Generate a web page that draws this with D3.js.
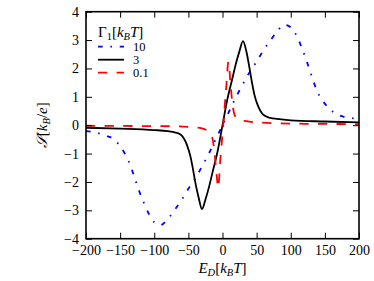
<!DOCTYPE html>
<html><head><meta charset="utf-8">
<script src="https://cdn.jsdelivr.net/npm/d3@7"></script>
<style>
body{margin:0;background:#fff;}
svg text{font-family:'Liberation Serif','Times New Roman','DejaVu Serif',serif !important;fill:#000;}
</style></head><body>
<svg id="c" width="374" height="281"></svg>
<script>
// ---- data ----
const xTicks = [-200,-150,-100,-50,0,50,100,150,200];
const yTicks = [-4,-3,-2,-1,0,1,2,3,4];
const legendLabels = ["10","3","0.1"];

const blueE = [-200,-185,-170,-160,-152,-145,-137,-130,-122,-115,-108,-100,-91,-80,-70,-60,-50,-40,-30,-20,-10,0,10,20,30,40,50,60,70,80,90,100,108,115,122,130,137,145,152,162,177,200];
const blueS = [-0.21,-0.26,-0.38,-0.48,-0.68,-0.92,-1.3,-1.76,-2.33,-2.75,-3.12,-3.42,-3.52,-3.3,-2.98,-2.64,-2.24,-1.88,-1.45,-1.0,-0.5,0,0.5,1.0,1.45,1.88,2.24,2.64,2.98,3.3,3.54,3.45,3.18,2.8,2.35,1.78,1.3,0.92,0.7,0.47,0.3,0.23];

const blackE = [-200,-150,-100,-80,-70,-62,-57,-52,-47,-44,-40,-35,-30,-25,-20,-14,-7,0,7,14,20,25,30,35,40,44,47,52,57,62,70,80,100,150,200];
const blackS = [-0.09,-0.12,-0.17,-0.21,-0.25,-0.32,-0.45,-0.7,-1.1,-1.45,-2.0,-2.55,-2.96,-2.62,-2.2,-1.6,-0.9,0,0.9,1.6,2.2,2.62,2.96,2.6,1.95,1.4,1.05,0.68,0.45,0.33,0.26,0.22,0.17,0.13,0.1];

const redE = [-200,-120,-70,-45,-30,-22,-17,-14,-12,-10,-8,-6.5,-3,0,3,6,8.5,10,11.5,13.5,15.5,19,25,35,50,80,120,200];
const redS = [-0.02,-0.03,-0.04,-0.07,-0.11,-0.2,-0.32,-0.55,-0.9,-1.4,-1.9,-2.2,-1.15,-0.3,0.6,1.5,2.23,2.0,1.5,1.0,0.6,0.3,0.2,0.14,0.1,0.07,0.05,0.04];

const series = [
  {name:legendLabels[0], E:blueE, S:blueS, color:"#0000ff", dash:"4.65,7.75,1.55,7.75"},
  {name:legendLabels[1], E:blackE, S:blackS, color:"#000000", dash:null},
  {name:legendLabels[2], E:redE, S:redS, color:"#ff0000", dash:"9.3,9.3"}
];

// ---- layout ----
const L=86, R=359, T=11.7, B=238.7;
const svg = d3.select("#c");
const x = d3.scaleLinear().domain([-200,200]).range([L,R]);
const y = d3.scaleLinear().domain([-4,4]).range([B,T]);

svg.append("clipPath").attr("id","pc").append("rect")
  .attr("x",L).attr("y",T).attr("width",R-L).attr("height",B-T);
const g = svg.append("g");

const line = d3.line().x(d=>x(d[0])).y(d=>y(d[1])).curve(d3.curveMonotoneX);
series.forEach(s=>{
  const pts = s.E.map((e,i)=>[e,s.S[i]]);
  g.append("path").attr("d",line(pts)).attr("fill","none")
    .attr("stroke",s.color).attr("stroke-width",1.8)
    .attr("stroke-dasharray",s.dash).attr("clip-path","url(#pc)");
});

// axes with inward ticks
const tl = 6;
const fmt = d=> d<0 ? "\u2212"+Math.abs(d) : String(d);
const axB = d3.axisBottom(x).tickValues(xTicks).tickSize(-tl).tickPadding(6).tickFormat(fmt);
const axT = d3.axisTop(x).tickValues(xTicks).tickSize(-tl).tickFormat("");
const axL = d3.axisLeft(y).tickValues(yTicks).tickSize(-tl).tickPadding(7).tickFormat(fmt);
const axR = d3.axisRight(y).tickValues(yTicks).tickSize(-tl).tickFormat("");
function style(sel){
  sel.attr("font-family",null).attr("font-size",null);
  sel.select(".domain").remove();
  sel.selectAll(".tick line").attr("stroke","#000").attr("stroke-width",1);
  sel.selectAll(".tick text").attr("font-size",14);
}
svg.append("g").attr("transform",`translate(0,${B})`).call(axB).call(style);
svg.append("g").attr("transform",`translate(0,${T})`).call(axT).call(style);
svg.append("g").attr("transform",`translate(${L},0)`).call(axL).call(style);
svg.append("g").attr("transform",`translate(${R},0)`).call(axR).call(style);

svg.append("rect").attr("x",L).attr("y",T).attr("width",R-L).attr("height",B-T)
  .attr("fill","none").attr("stroke","#000").attr("stroke-width",1.6);

// axis labels
const xl = svg.append("text").attr("x",(L+R)/2).attr("y",273).attr("text-anchor","middle").attr("font-size",15);
xl.append("tspan").attr("font-style","italic").text("E");
xl.append("tspan").attr("font-style","italic").attr("font-size",10.5).attr("dy",3).text("D");
xl.append("tspan").attr("dy",-3).text("[");
xl.append("tspan").attr("font-style","italic").text("k");
xl.append("tspan").attr("font-style","italic").attr("font-size",10.5).attr("dy",3).text("B");
xl.append("tspan").attr("font-style","italic").attr("dy",-3).text("T");
xl.append("tspan").text("]");

const yl = svg.append("text").attr("transform",`translate(47,${(T+B)/2}) rotate(-90)`).attr("text-anchor","middle").attr("font-size",15);
yl.append("tspan").attr("font-style","italic").text("\uD835\uDCAE");
yl.append("tspan").text("[");
yl.append("tspan").attr("font-style","italic").text("k");
yl.append("tspan").attr("font-style","italic").attr("font-size",10.5).attr("dy",3).text("B");
yl.append("tspan").attr("dy",-3).text("/");
yl.append("tspan").attr("font-style","italic").text("e");
yl.append("tspan").text("]");

// legend
const lt = svg.append("text").attr("x",98).attr("y",37).attr("font-size",15);
lt.append("tspan").text("\u0393");
lt.append("tspan").attr("font-size",10.5).attr("dy",3).text("1");
lt.append("tspan").attr("dy",-3).text("[");
lt.append("tspan").attr("font-style","italic").text("k");
lt.append("tspan").attr("font-style","italic").attr("font-size",10.5).attr("dy",3).text("B");
lt.append("tspan").attr("font-style","italic").attr("dy",-3).text("T");
lt.append("tspan").text("]");
const ly = [46.7,59.7,72.7];
series.forEach((s,i)=>{
  svg.append("line").attr("x1",98).attr("x2",124).attr("y1",ly[i]).attr("y2",ly[i])
    .attr("stroke",s.color).attr("stroke-width",1.8).attr("stroke-dasharray",s.dash);
  svg.append("text").attr("x",133).attr("y",ly[i]+4.5).attr("font-size",12.5).text(s.name);
});
</script></body></html>
